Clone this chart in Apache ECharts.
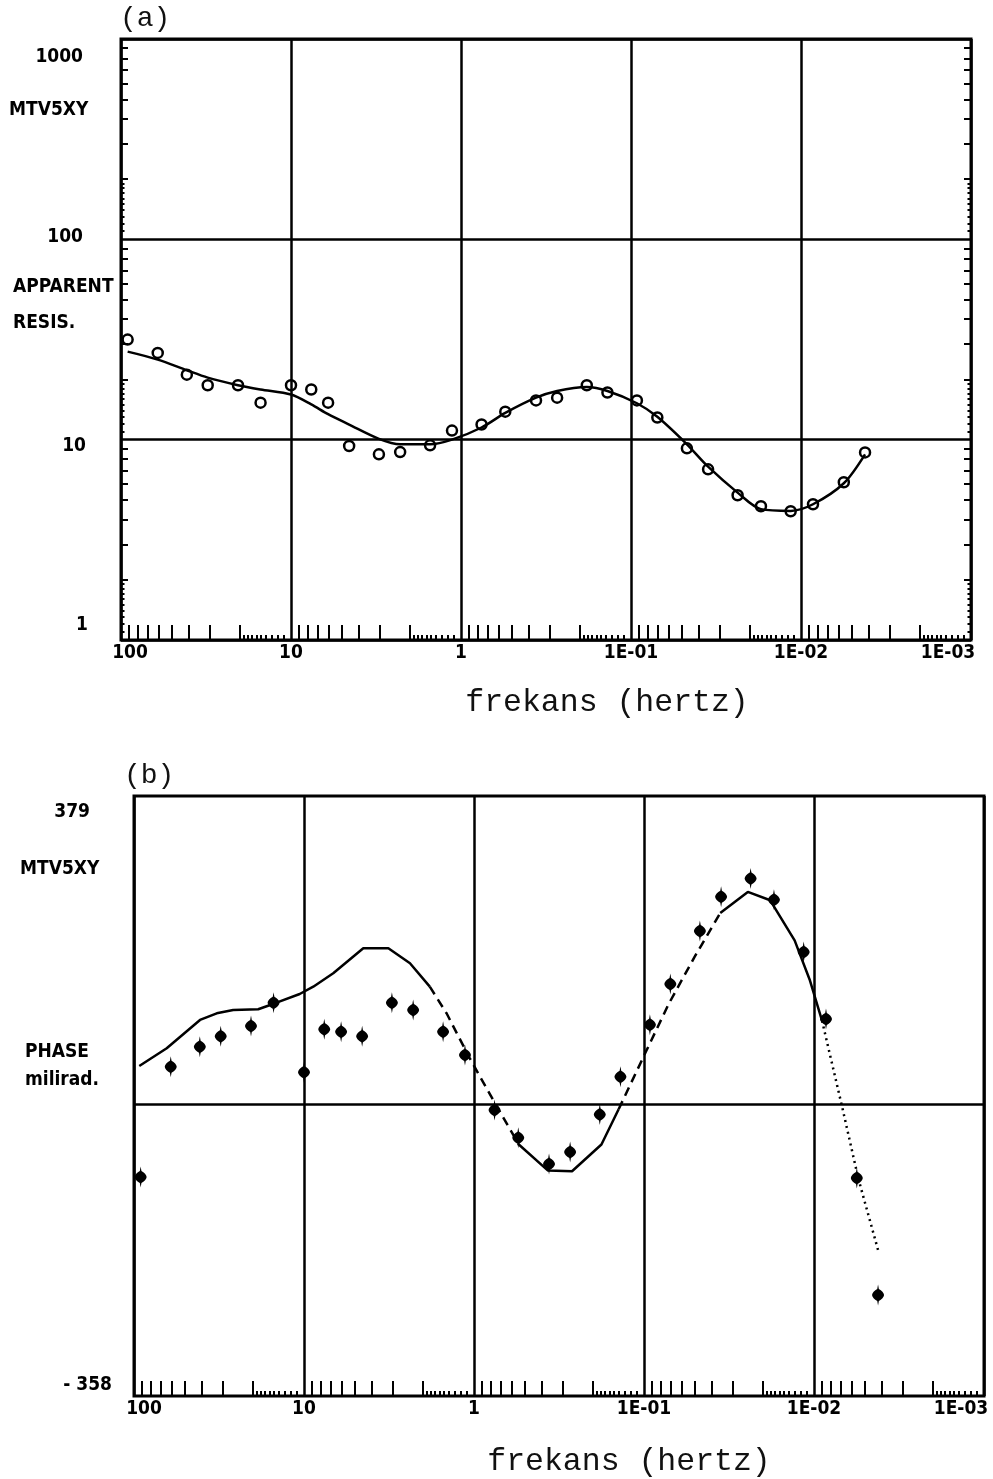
<!DOCTYPE html>
<html>
<head>
<meta charset="utf-8">
<title>MTV5XY sounding curves</title>
<script src="https://cdn.jsdelivr.net/npm/echarts@6/dist/echarts.min.js"></script>
<style>
  html, body { margin: 0; padding: 0; background: #ffffff; }
  #chart { width: 993px; height: 1479px; }
</style>
</head>
<body>
<div id="chart"></div>
<script>
// Sounding frequencies in hertz (shared by both panels)
const frequency = [91.4, 60.8, 41.0, 30.9, 20.5, 15.1, 10.0, 7.6, 6.05, 4.55,
  3.04, 2.28, 1.52, 1.13, 0.757, 0.549, 0.362, 0.272, 0.182, 0.1376,
  0.0923, 0.070, 0.0469, 0.0352, 0.0236, 0.0172, 0.0115, 0.0085, 0.0056, 0.0042];

// (a) apparent resistivity: observed values and model response
const resistivityObs = [31.6, 27.1, 21.1, 18.7, 18.7, 15.3, 18.7, 17.8, 15.3, 9.3,
  8.45, 8.67, 9.37, 11.1, 11.9, 13.8, 15.7, 16.2, 18.7, 17.2,
  15.7, 12.9, 9.05, 7.11, 5.28, 4.65, 4.39, 4.76, 6.13, 8.64];
const resistivityModel = [27.5, 25.1, 22.2, 20.4, 18.7, 17.8, 16.8, 15.0, 13.4, 11.9,
  10.1, 9.48, 9.48, 10.0, 11.5, 13.6, 16.2, 17.5, 18.3, 17.5,
  15.2, 13.0, 9.48, 7.33, 5.44, 4.5, 4.41, 4.76, 6.06, 8.45];

// (b) phase in milliradians: observed values
const phaseObs = [-89, 46.5, 71, 84, 96.5, 125, 39.6, 92.4, 89.5, 84,
  125, 116, 89.5, 61, -6.7, -40.8, -72.9, -58.2, -12.1, 34,
  98.1, 148.2, 213.1, 255.1, 277.7, 251.7, 187.3, 105.1, -90.1, -233.9];
// (b) model phase curve
const phaseModelFreq = [93.1, 64.2, 40.9, 32.6, 26.1, 18.6, 14.5, 10.6, 8.82, 6.73,
  4.48, 3.19, 2.38, 1.82, 1.45, 1.056, 0.745, 0.545, 0.367, 0.265,
  0.178, 0.141, 0.0969, 0.0716, 0.0505, 0.0356, 0.0245, 0.0181, 0.013, 0.01056,
  0.00897, 0.00678, 0.0055, 0.00415];
const phaseModel = [47.4, 69.1, 103.9, 112.1, 116.1, 117, 125.1, 135.8, 144.8, 161.2,
  191.9, 191.9, 173.5, 144.8, 112.1, 56.3, 0, -49.1, -81.1, -81.9,
  -49.1, -5.8, 66, 123.5, 181.1, 235.3, 261.2, 250.9, 201.6, 152.3,
  103, -5.8, -90.1, -182.6];

// Tick labels
const freqDecades = [100, 10, 1, 0.1, 0.01, 0.001];
const freqTickLabels = ['100', '10', '1', '1E-01', '1E-02', '1E-03'];
const rhoDecades = [1, 10, 100, 1000];
const rhoTickLabels = ['1', '10', '100', '1000'];
const phaseTicks = [-358, 379];
const phaseTickLabels = ['- 358', '379'];

// Line style of each stretch of the model phase curve (index ranges into phaseModel)
const phaseSegments = [
  { from: 0, to: 13, type: 'solid' },
  { from: 13, to: 17, type: [9, 6] },
  { from: 17, to: 21, type: 'solid' },
  { from: 21, to: 25, type: [9, 6] },
  { from: 25, to: 30, type: 'solid' },
  { from: 30, to: 33, type: [2, 4] }
];

const BOLD = '"DejaVu Sans Condensed", "Liberation Sans Narrow", "DejaVu Sans", sans-serif';
const MONO = '"Liberation Mono", "DejaVu Sans Mono", monospace';
const INK = '#000000';

// minor tick positions in decade-exponent space: 2..9 (long) and 1.1..1.9 (short)
function minorTicks(lo, hi, long) {
  const out = [];
  for (let d = lo; d < hi; d++) {
    if (long) {
      for (let k = 2; k <= 9; k++) out.push(d + Math.log10(k));
    } else {
      for (let k = 11; k <= 19; k++) out.push(d + Math.log10(k / 10));
    }
  }
  return out;
}

// value axis in exponent space that only draws inward tick marks
function tickAxis(gridIndex, lo, hi, values, len, extra) {
  return Object.assign({
    type: 'value', gridIndex: gridIndex, min: lo, max: hi, silent: true,
    axisLine: { show: false, onZero: false }, axisLabel: { show: false }, splitLine: { show: false },
    axisTick: { show: true, inside: true, length: len, customValues: values,
      lineStyle: { color: INK, width: 2 } }
  }, extra || {});
}

function pairs(xs, ys) { return xs.map((x, i) => [x, ys[i]]); }

function freqLabel(v) {
  let best = 0;
  freqDecades.forEach((d, i) => {
    if (Math.abs(Math.log10(d) - Math.log10(v)) < Math.abs(Math.log10(freqDecades[best]) - Math.log10(v))) best = i;
  });
  const key = best === 0 ? 'first' : (best === freqDecades.length - 1 ? 'last' : 'mid');
  return '{' + key + '|' + freqTickLabels[best] + '}';
}

const labelFont = { fontFamily: BOLD, fontWeight: 'bold', fontSize: 19, color: INK };

function freqAxis(gridIndex, nameGap, namePad, firstPad, lastPad) {
  return {
    type: 'log', logBase: 10, gridIndex: gridIndex, min: 0.001, max: 100, inverse: true,
    position: 'bottom',
    axisLine: { show: false, onZero: false },
    axisTick: { show: false },
    splitLine: { show: true, lineStyle: { color: INK, width: 2.5 } },
    axisLabel: Object.assign({
      margin: 4, formatter: freqLabel,
      rich: {
        first: Object.assign({ padding: [0, 0, 0, firstPad] }, labelFont),
        mid: Object.assign({}, labelFont),
        last: Object.assign({ padding: [0, lastPad, 0, 0] }, labelFont)
      }
    }, labelFont),
    name: 'frekans (hertz)', nameLocation: 'middle', nameGap: nameGap,
    nameTextStyle: { fontFamily: MONO, fontSize: 31.5, color: '#111', padding: [0, 0, 0, namePad] }
  };
}

const longX = minorTicks(-3, 2, true), shortX = minorTicks(-3, 2, false);
const longY = minorTicks(0, 3, true), shortY = minorTicks(0, 3, false);

const phaseMarker = 'path://M6,0 L6.8,4.5 C9.5,6 12,8.5 12,10.5 C12,12.5 9.5,15 6.8,16.5 L6,21 L5.2,16.5 C2.5,15 0,12.5 0,10.5 C0,8.5 2.5,6 5.2,4.5 Z';

const phaseLineSeries = phaseSegments.map((seg, i) => {
  const s = {
    type: 'line', xAxisIndex: 3, yAxisIndex: 5, silent: true,
    data: pairs(phaseModelFreq, phaseModel).slice(seg.from, seg.to + 1),
    showSymbol: false, symbol: 'none',
    lineStyle: { color: INK, width: 2.5, type: seg.type },
    z: 3
  };
  if (i === 0) {
    s.markLine = {
      silent: true, symbol: 'none', label: { show: false },
      lineStyle: { color: INK, width: 2.5, type: 'solid' },
      data: [{ yAxis: 0 }]
    };
  }
  return s;
});

const option = {
  animation: false,
  backgroundColor: '#ffffff',
  grid: [
    { left: 121, right: 22, top: 39, height: 601, show: true, borderColor: INK, borderWidth: 3,
      backgroundColor: 'transparent', containLabel: false, outerBoundsMode: 'none' },
    { left: 134, right: 9, top: 796, height: 600, show: true, borderColor: INK, borderWidth: 3,
      backgroundColor: 'transparent', containLabel: false, outerBoundsMode: 'none' }
  ],
  xAxis: [
    freqAxis(0, 47, 122, 18, 46),
    tickAxis(0, -3, 2, longX, 15, { inverse: true, position: 'bottom' }),
    tickAxis(0, -3, 2, shortX, 5, { inverse: true, position: 'bottom' }),
    freqAxis(1, 50, 140, 20, 46),
    tickAxis(1, -3, 2, longX, 15, { inverse: true, position: 'bottom' }),
    tickAxis(1, -3, 2, shortX, 5, { inverse: true, position: 'bottom' })
  ],
  yAxis: [
    {
      type: 'log', logBase: 10, gridIndex: 0, min: 1, max: 1000, position: 'left',
      axisLine: { show: false, onZero: false }, axisTick: { show: false },
      splitLine: { show: true, lineStyle: { color: INK, width: 2.5 } },
      axisLabel: Object.assign({
        margin: 33,
        formatter: function (v) {
          const e = Math.round(Math.log10(v));
          return '{r' + e + '|' + rhoTickLabels[rhoDecades.indexOf(Math.pow(10, e))] + '}';
        },
        rich: {
          r0: Object.assign({ padding: [0, 0, 30, 0] }, labelFont),
          r1: Object.assign({ padding: [12, 2, 0, 0] }, labelFont),
          r2: Object.assign({ padding: [0, 5, 4, 0] }, labelFont),
          r3: Object.assign({ padding: [36, 5, 0, 0] }, labelFont)
        }
      }, labelFont)
    },
    tickAxis(0, 0, 3, longY, 7, { position: 'left' }),
    tickAxis(0, 0, 3, shortY, 3.5, { position: 'left' }),
    tickAxis(0, 0, 3, longY, 7, { position: 'right' }),
    tickAxis(0, 0, 3, shortY, 3.5, { position: 'right' }),
    {
      type: 'value', gridIndex: 1, min: -358, max: 379, position: 'left',
      axisLine: { show: false, onZero: false }, axisTick: { show: false }, splitLine: { show: false },
      axisLabel: Object.assign({
        margin: 22, customValues: phaseTicks,
        formatter: function (v) {
          const i = phaseTicks.indexOf(v);
          return '{' + (v > 0 ? 'hi' : 'lo') + '|' + phaseTickLabels[i] + '}';
        },
        rich: {
          hi: Object.assign({ padding: [32, 22, 0, 0] }, labelFont),
          lo: Object.assign({ padding: [0, 0, 22, 0] }, labelFont)
        }
      }, labelFont)
    }
  ],
  series: [
    {
      type: 'line', xAxisIndex: 0, yAxisIndex: 0, silent: true,
      data: pairs(frequency, resistivityModel),
      showSymbol: false, symbol: 'none', smooth: 0.3,
      lineStyle: { color: INK, width: 2.5 }, z: 3
    },
    {
      type: 'scatter', xAxisIndex: 0, yAxisIndex: 0, silent: true,
      data: pairs(frequency, resistivityObs),
      symbol: 'circle', symbolSize: 10,
      itemStyle: { color: 'rgba(0,0,0,0)', borderColor: INK, borderWidth: 2.5, opacity: 1 }, z: 4
    }
  ].concat(phaseLineSeries, [
    {
      type: 'scatter', xAxisIndex: 3, yAxisIndex: 5, silent: true,
      data: pairs(frequency, phaseObs),
      symbol: phaseMarker, symbolSize: [12, 21],
      itemStyle: { color: INK, opacity: 1 }, z: 4
    }
  ]),
  graphic: [
    { type: 'text', left: 120, top: 5, style: { text: '(a)', fontFamily: MONO, fontSize: 28, fill: '#111' } },
    { type: 'text', left: 124, top: 762, style: { text: '(b)', fontFamily: MONO, fontSize: 28, fill: '#111' } },
    { type: 'text', left: 9, top: 101, style: { text: 'MTV5XY', fontFamily: BOLD, fontWeight: 'bold', fontSize: 19, fill: INK } },
    { type: 'text', left: 13, top: 278, style: { text: 'APPARENT', fontFamily: BOLD, fontWeight: 'bold', fontSize: 19, fill: INK } },
    { type: 'text', left: 13, top: 314, style: { text: 'RESIS.', fontFamily: BOLD, fontWeight: 'bold', fontSize: 19, fill: INK } },
    { type: 'text', left: 20, top: 860, style: { text: 'MTV5XY', fontFamily: BOLD, fontWeight: 'bold', fontSize: 19, fill: INK } },
    { type: 'text', left: 25, top: 1043, style: { text: 'PHASE', fontFamily: BOLD, fontWeight: 'bold', fontSize: 19, fill: INK } },
    { type: 'text', left: 25, top: 1071, style: { text: 'milirad.', fontFamily: BOLD, fontWeight: 'bold', fontSize: 19, fill: INK } }
  ]
};

const chart = echarts.init(document.getElementById('chart'), null, { renderer: 'canvas' });
chart.setOption(option);
</script>
</body>
</html>
